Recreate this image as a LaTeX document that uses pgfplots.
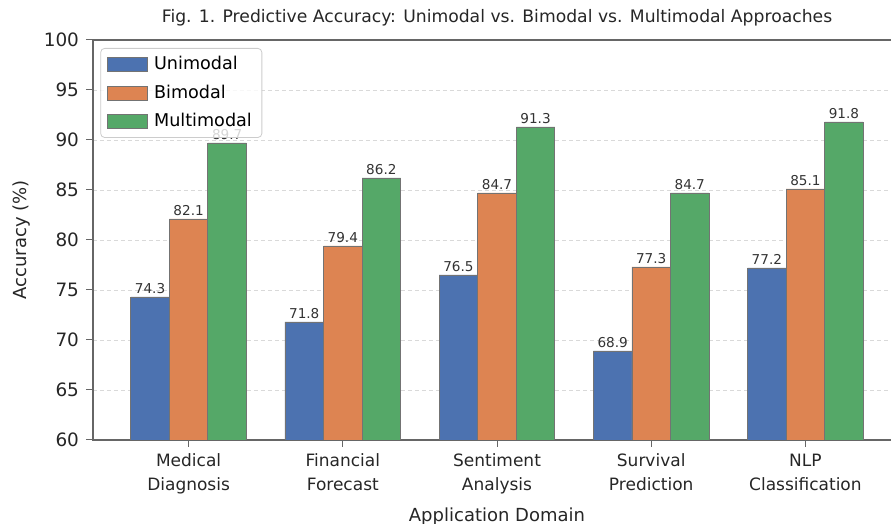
\documentclass[border=0pt]{standalone}
\usepackage{fontspec}
\setmainfont{DejaVu Sans}
\usepackage{pgfplots}
\pgfplotsset{compat=1.18}
\definecolor{cU}{RGB}{76,114,176}
\definecolor{cB}{RGB}{221,132,82}
\definecolor{cM}{RGB}{85,168,104}
\pgfplotsset{
  mylegend/.style={legend image code/.code={\path[draw=none] (21.5pt,0pt);\draw[##1, draw=black!55, line width=0.4pt, sharp corners, fill opacity=1, draw opacity=1] (0pt,-3.5pt) rectangle (20pt,3.5pt);}},
}
\begin{document}
\begin{tikzpicture}
\begin{axis}[
  scale only axis, width=404pt, height=200pt,
  xmin=-0.62, xmax=4.62, ymin=60, ymax=100,
  ybar=0pt, bar width=0.25,
  ytick={60,65,...,100},
  xtick={0,1,2,3,4},
  xticklabels={{Medical\\Diagnosis},{Financial\\Forecast},{Sentiment\\Analysis},{Survival\\Prediction},{NLP\\Classification}},
  xticklabel style={align=center, font=\fontsize{8.5}{12}\selectfont, text=black!85},
  yticklabel style={font=\fontsize{9.2}{11}\selectfont, text=black!85},
  /pgf/number format/assume math mode=true,
  tick align=outside, major tick length=3.5pt,
  tick style={black!60, line width=0.5pt},
  xtick pos=bottom, ytick pos=left,
  axis line style={black!60, line width=0.6pt},
  ymajorgrids, major grid style={gray!30, dash pattern=on 2pt off 1.5pt, line width=0.4pt},
  title={Fig. 1. Predictive Accuracy: Unimodal vs. Bimodal vs. Multimodal Approaches},
  title style={font=\fontsize{8.6}{10}\selectfont, text=black!85, at={(0.5,1)}, anchor=south, yshift=-2.5pt},
  xlabel={Application Domain},
  xlabel style={font=\fontsize{9}{11}\selectfont, text=black!85},
  ylabel={Accuracy (\%)},
  ylabel style={font=\fontsize{9}{11}\selectfont, text=black!85},
  nodes near coords,
  nodes near coords style={font=\fontsize{6.8}{8}\selectfont, text=black!80, anchor=south, inner sep=1.5pt,
    /pgf/number format/.cd, fixed, precision=1, fixed zerofill, assume math mode=true},
  legend cell align=left,
  legend style={at={(0.009,0.98)}, anchor=north west, font=\fontsize{8.8}{10}\selectfont,
    draw=black!20, rounded corners=2pt, fill=white, fill opacity=0.8, text opacity=1,
    row sep=2pt, inner xsep=3pt, inner ysep=2pt},
]
\addplot[bar shift=-0.25, fill=cU, draw=black!55, line width=0.4pt, mylegend]
  coordinates {(0,74.3) (1,71.8) (2,76.5) (3,68.9) (4,77.2)};
\addplot[bar shift=0, fill=cB, draw=black!55, line width=0.4pt, mylegend]
  coordinates {(0,82.1) (1,79.4) (2,84.7) (3,77.3) (4,85.1)};
\addplot[bar shift=0.25, fill=cM, draw=black!55, line width=0.4pt, mylegend]
  coordinates {(0,89.7) (1,86.2) (2,91.3) (3,84.7) (4,91.8)};
\legend{Unimodal, Bimodal, Multimodal}
\coordinate (bl) at (rel axis cs:0,0);
\end{axis}
\pgfresetboundingbox
\path (bl) ++(-46.5pt,-42pt) rectangle ++(445.5pt,262pt);
\end{tikzpicture}
\end{document}
